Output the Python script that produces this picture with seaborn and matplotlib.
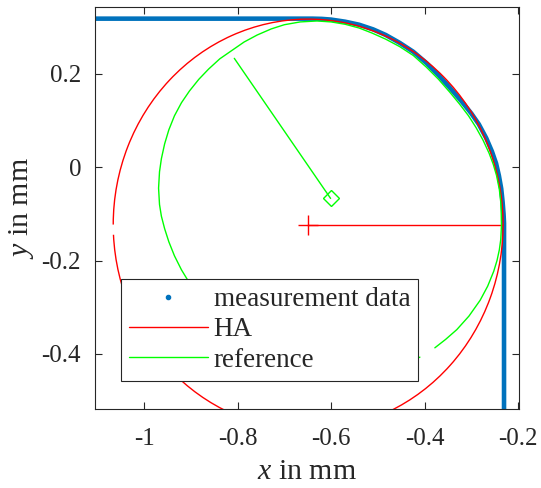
import numpy as np
import matplotlib
matplotlib.use('Agg')
import matplotlib.pyplot as plt
from matplotlib.patches import Arc
from matplotlib.lines import Line2D
import seaborn as sns

meas_x = [-1.2, -0.64, -0.62, -0.60, -0.57, -0.54, -0.51, -0.483, -0.453, -0.424,
          -0.396, -0.37, -0.345, -0.32, -0.30, -0.284, -0.268, -0.256, -0.247,
          -0.241, -0.236, -0.233, -0.231, -0.230, -0.230]
meas_y = [0.318, 0.318, 0.3175, 0.316, 0.3115, 0.305, 0.295, 0.283, 0.266, 0.247,
          0.223, 0.197, 0.169, 0.140, 0.115, 0.092, 0.062, 0.034, 0.008,
          -0.018, -0.046, -0.075, -0.10, -0.12, -0.6]

# HA fit: centre, semi axes, gap of the drawn curve, radius line end
ha_center = (-0.649, -0.123)
ha_axes = (0.417, 0.440)
ha_gap = (180.0, 183.0)
ha_line_end = (-0.235, -0.123)

# reference contour (starting after the gap)
ref_x = [-0.378, -0.355, -0.331, -0.305, -0.281, -0.265, -0.252, -0.245, -0.240,
         -0.237, -0.2355, -0.236, -0.237, -0.240, -0.246, -0.253, -0.262,
         -0.275, -0.290, -0.306, -0.325, -0.346, -0.370, -0.396, -0.424, -0.453,
         -0.483, -0.512, -0.540, -0.570, -0.600, -0.630, -0.666, -0.700, -0.728,
         -0.758, -0.786, -0.812, -0.838, -0.862, -0.883, -0.903, -0.920, -0.935,
         -0.947, -0.956, -0.963, -0.967, -0.969, -0.967, -0.963, -0.956, -0.947,
         -0.935, -0.920, -0.903, -0.883, -0.838, -0.790, -0.730, -0.665, -0.600,
         -0.535, -0.470, -0.410]
ref_y = [-0.387, -0.369, -0.348, -0.319, -0.285, -0.255, -0.223, -0.200, -0.177,
         -0.155, -0.125, -0.100, -0.075, -0.048, -0.018, 0.006, 0.030,
         0.058, 0.085, 0.110, 0.135, 0.1605, 0.188, 0.214, 0.239, 0.258,
         0.274, 0.287, 0.298, 0.306, 0.311, 0.313, 0.311, 0.305, 0.296,
         0.283, 0.268, 0.250, 0.232, 0.210, 0.188, 0.163, 0.138, 0.110,
         0.080, 0.050, 0.018, -0.010, -0.045, -0.080, -0.105, -0.132, -0.160,
         -0.190, -0.220, -0.248, -0.275, -0.325, -0.365, -0.400, -0.425, -0.440,
         -0.443, -0.432, -0.407]
ref_center = (-0.601, -0.067)
ref_line_start = (-0.807, 0.233)

labels = ['measurement data', 'HA', 'reference']
blue = '#0072BD'
red = '#FF0000'
green = '#00FF00'

sns.set_style('white')
plt.rcParams['font.family'] = ['Liberation Serif', 'DejaVu Serif']
plt.rcParams['mathtext.fontset'] = 'custom'
plt.rcParams['mathtext.it'] = 'Liberation Serif:italic'
plt.rcParams['mathtext.rm'] = 'Liberation Serif'

fig = plt.figure(figsize=(5.41, 4.88), dpi=100)
ax = fig.add_axes([0.1756, 0.1619, 0.9593 - 0.1756, 0.9857 - 0.1619])

sns.lineplot(x=meas_x, y=meas_y, sort=False, estimator=None, color=blue,
             linewidth=3.3, ax=ax, zorder=2)

ax.add_patch(Arc(ha_center, 2 * ha_axes[0], 2 * ha_axes[1],
                 theta1=ha_gap[1], theta2=ha_gap[0] + 360, color=red, lw=1.0, zorder=3))
sns.lineplot(x=[ha_center[0], ha_line_end[0]], y=[ha_center[1], ha_line_end[1]],
             sort=False, estimator=None, color=red, linewidth=1.0, ax=ax, zorder=3)
ax.plot([ha_center[0]], [ha_center[1]], marker='+', ms=14, mew=1.0, color=red, zorder=3)

sns.lineplot(x=ref_x, y=ref_y, sort=False, estimator=None, color=green,
             linewidth=1.0, ax=ax, zorder=4)
sns.lineplot(x=[ref_line_start[0], ref_center[0]], y=[ref_line_start[1], ref_center[1]],
             sort=False, estimator=None, color=green, linewidth=1.0, ax=ax, zorder=4)
ax.plot([ref_center[0]], [ref_center[1]], marker='D', ms=8, mfc='none', mew=1.0,
        color=green, zorder=4)

ax.set_xlim(-1.105, -0.198)
ax.set_ylim(-0.518, 0.343)
ax.set_xticks([-1, -0.8, -0.6, -0.4, -0.2])
ax.set_xticklabels(['-1', '-0.8', '-0.6', '-0.4', '-0.2'])
ax.set_yticks([-0.4, -0.2, 0, 0.2])
ax.set_yticklabels(['-0.4', '-0.2', '0', '0.2'])
ax.tick_params(direction='in', length=5, width=0.8, color='#262626', labelsize=18,
               top=True, right=True, bottom=True, left=True)
ax.tick_params(axis='x', pad=14)
ax.tick_params(axis='y', pad=10)
for s in ax.spines.values():
    s.set_color('#262626')
    s.set_linewidth(0.8)

ax.set_xlabel('$x$ in mm', fontsize=21.5, labelpad=6)
ax.set_ylabel('$y$ in mm', fontsize=21.5, labelpad=4)

handles = [Line2D([], [], color=blue, marker='.', ms=6, ls='none'),
           Line2D([], [], color=red, lw=1.0),
           Line2D([], [], color=green, lw=1.0)]
leg = ax.legend(handles, labels, loc='lower left', bbox_to_anchor=(0.0613, 0.0697),
                borderaxespad=0, fontsize=19.5, handlelength=2.9, handletextpad=0.22,
                labelspacing=0.2, borderpad=0.3, fancybox=False, framealpha=1,
                edgecolor='#262626')
leg.get_frame().set_linewidth(0.8)
leg.set_zorder(10)

fig.savefig('out.png', dpi=100)
